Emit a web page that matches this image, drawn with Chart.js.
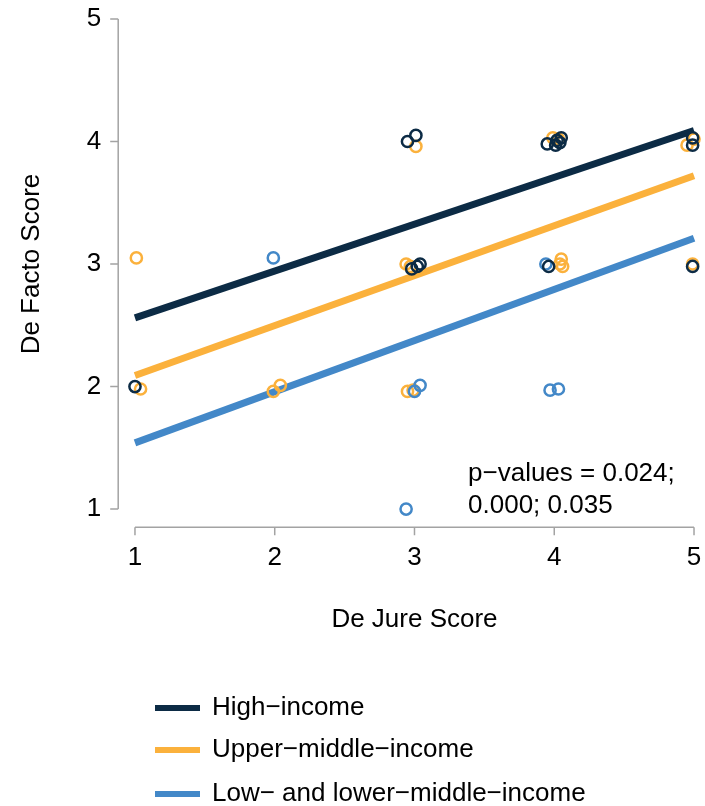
<!DOCTYPE html>
<html>
<head>
<meta charset="utf-8">
<script src="https://cdn.jsdelivr.net/npm/chart.js@4"></script>
<style>
  body { margin: 0; background: #fff; }
  canvas { display: block; }
</style>
</head>
<body>
<canvas id="scoreChart" width="705" height="806"></canvas>
<script>
// tick labels
const deJureTicks = [1, 2, 3, 4, 5];
const deFactoTicks = [1, 2, 3, 4, 5];

const groupNames = ["High\u2212income", "Upper\u2212middle\u2212income", "Low\u2212 and lower\u2212middle\u2212income"];
const groupColors = ["#0c2b45", "#fbb13c", "#4388c8"];

// jittered country scores (de jure, de facto)
const highX = [1.00, 2.95, 3.01, 2.98, 3.04, 3.02, 3.95, 4.01, 4.04, 4.05, 4.02, 3.96, 4.99, 4.99, 4.99];
const highY = [2.00, 4.00, 4.05, 2.96, 3.00, 2.98, 3.98, 3.97, 3.99, 4.03, 4.01, 2.98, 4.03, 3.97, 2.98];

const upperX = [1.01, 1.04, 1.99, 2.04, 2.95, 2.99, 2.94, 2.97, 3.01, 3.99, 4.03, 4.05, 4.04, 4.06, 4.95, 5.00, 4.99];
const upperY = [3.05, 1.98, 1.96, 2.01, 1.96, 1.97, 3.00, 2.98, 3.96, 4.03, 4.02, 3.04, 3.00, 2.98, 3.97, 4.02, 3.00];

const lowX = [1.99, 2.94, 3.00, 3.04, 3.97, 4.03, 3.94];
const lowY = [3.05, 1.00, 1.96, 2.01, 1.97, 1.98, 3.00];

// fitted lines at x = 1 and x = 5
const fitX = [1, 5];
const highFit = [2.56, 4.09];
const upperFit = [2.09, 3.72];
const lowFit = [1.54, 3.21];

const pValueLines = ["p\u2212values = 0.024;", "0.000; 0.035"];

const FONT = "26px 'Liberation Sans', Arial, sans-serif";
const AXIS_GREY = "#a3a3a3";

function toPoints(xs, ys) {
  return xs.map(function (x, i) {
    return { x: x, y: ys[i] };
  });
}

function pointSet(label, xs, ys, color, order) {
  return {
    label: label,
    data: toPoints(xs, ys),
    borderColor: color,
    backgroundColor: "rgba(0,0,0,0)",
    borderWidth: 2.5,
    pointRadius: 5.6,
    showLine: false,
    order: order,
  };
}

function fitSet(label, ys, color, order) {
  return {
    label: label,
    data: toPoints(fitX, ys),
    borderColor: color,
    borderWidth: 7,
    pointRadius: 0,
    showLine: true,
    borderCapStyle: "butt",
    order: order,
  };
}

// R style detached axes, titles, note and legend
const rStylePlugin = {
  id: "rStyle",
  afterDraw(chart) {
    const ctx = chart.ctx;
    const xs = chart.scales.x;
    const ys = chart.scales.y;
    const axisY = chart.chartArea.bottom + 1;
    const axisX = chart.chartArea.left;

    ctx.save();
    ctx.strokeStyle = AXIS_GREY;
    ctx.lineWidth = 1.5;

    // x axis
    let x0 = xs.getPixelForValue(deJureTicks[0]);
    let x1 = xs.getPixelForValue(deJureTicks[deJureTicks.length - 1]);
    ctx.beginPath();
    ctx.moveTo(x0, axisY);
    ctx.lineTo(x1, axisY);
    deJureTicks.forEach(function (t) {
      let px = xs.getPixelForValue(t);
      ctx.moveTo(px, axisY);
      ctx.lineTo(px, axisY + 8);
    });
    ctx.stroke();

    // y axis
    let y0 = ys.getPixelForValue(deFactoTicks[0]);
    let y1 = ys.getPixelForValue(deFactoTicks[deFactoTicks.length - 1]);
    ctx.beginPath();
    ctx.moveTo(axisX, y0);
    ctx.lineTo(axisX, y1);
    deFactoTicks.forEach(function (t) {
      let py = ys.getPixelForValue(t);
      ctx.moveTo(axisX, py);
      ctx.lineTo(axisX - 8, py);
    });
    ctx.stroke();

    ctx.fillStyle = "#000";
    ctx.font = FONT;
    ctx.textBaseline = "middle";

    ctx.textAlign = "center";
    deJureTicks.forEach(function (t) {
      ctx.fillText(String(t), xs.getPixelForValue(t), axisY + 31);
    });
    ctx.textAlign = "right";
    deFactoTicks.forEach(function (t) {
      ctx.fillText(String(t), axisX - 17, ys.getPixelForValue(t));
    });

    // axis titles
    ctx.textAlign = "center";
    ctx.fillText("De Jure Score", (x0 + x1) / 2, 620);
    ctx.save();
    ctx.translate(32, (y0 + y1) / 2);
    ctx.rotate(-Math.PI / 2);
    ctx.fillText("De Facto Score", 0, 0);
    ctx.restore();

    // p-values note
    ctx.textAlign = "left";
    let noteX = xs.getPixelForValue(3.383);
    ctx.fillText(pValueLines[0], noteX, ys.getPixelForValue(1.286));
    ctx.fillText(pValueLines[1], noteX, ys.getPixelForValue(1.024));

    // legend
    const legendY = [708, 750, 794];
    groupNames.forEach(function (name, i) {
      ctx.strokeStyle = groupColors[i];
      ctx.lineWidth = 6;
      ctx.beginPath();
      ctx.moveTo(155, legendY[i]);
      ctx.lineTo(200, legendY[i]);
      ctx.stroke();
      ctx.fillStyle = "#000";
      ctx.fillText(name, 212, legendY[i]);
    });
    ctx.restore();
  },
};

const chart = new Chart(document.getElementById("scoreChart"), {
  type: "scatter",
  data: {
    datasets: [
      pointSet(groupNames[0], highX, highY, groupColors[0], 0),
      pointSet(groupNames[2], lowX, lowY, groupColors[2], 1),
      pointSet(groupNames[1], upperX, upperY, groupColors[1], 2),
      fitSet(groupNames[0] + " fit", highFit, groupColors[0], 3),
      fitSet(groupNames[1] + " fit", upperFit, groupColors[1], 4),
      fitSet(groupNames[2] + " fit", lowFit, groupColors[2], 5),
    ],
  },
  options: {
    responsive: false,
    animation: false,
    devicePixelRatio: 1,
    events: [],
    layout: {
      autoPadding: false,
      padding: { left: 118.2, right: 1.2, top: 11.65, bottom: 279.8 },
    },
    plugins: {
      legend: { display: false },
      tooltip: { enabled: false },
    },
    scales: {
      x: { type: "linear", min: 0.88, max: 5.07, display: false },
      y: { type: "linear", min: 0.86, max: 5.06, display: false },
    },
  },
  plugins: [rStylePlugin],
});
</script>
</body>
</html>
